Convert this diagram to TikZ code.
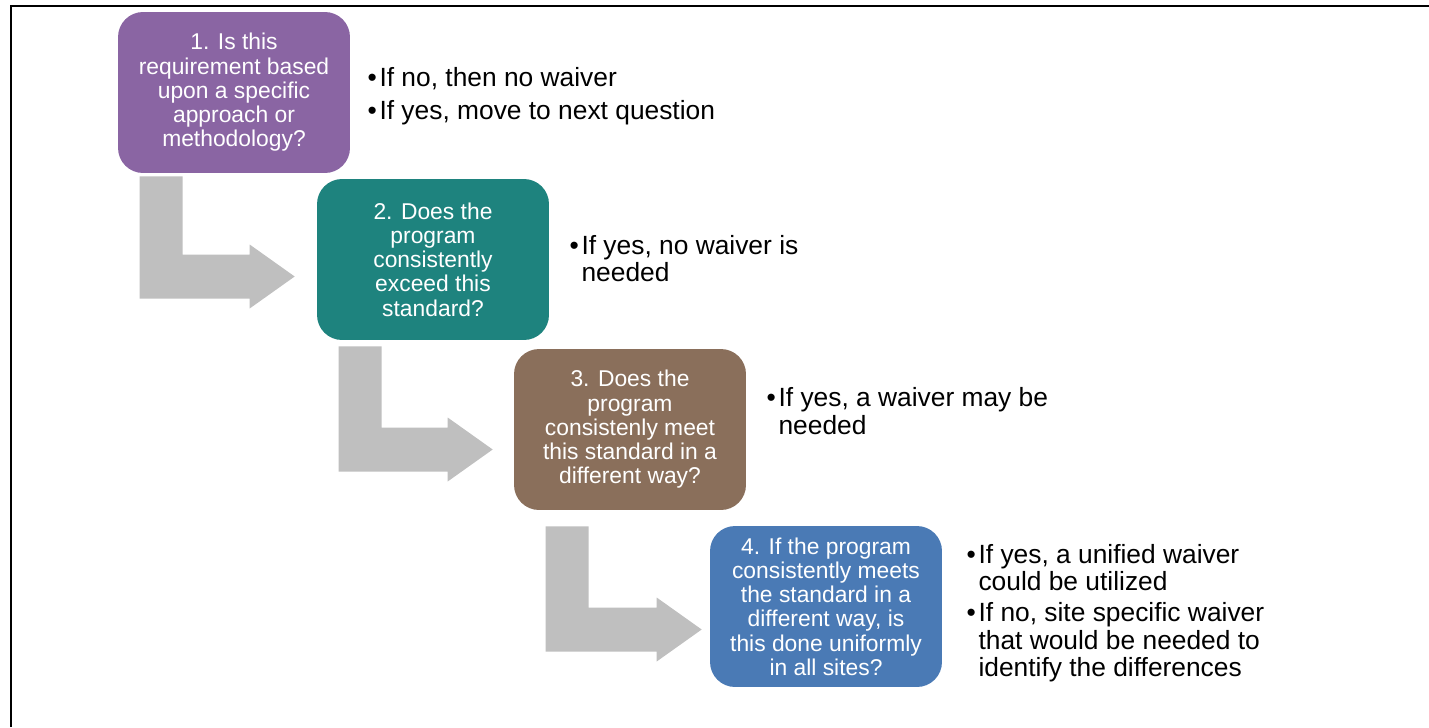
\documentclass[tikz,border=0pt]{standalone}
\usepackage{fontspec}
\setmainfont{Liberation Sans}
\usetikzlibrary{positioning,calc}
\definecolor{stepone}{RGB}{138,101,163}
\definecolor{steptwo}{RGB}{30,131,126}
\definecolor{stepthree}{RGB}{138,111,91}
\definecolor{stepfour}{RGB}{74,122,181}
\definecolor{bendgrey}{RGB}{191,191,191}
\tikzset{
question/.style={fill=#1, rounded corners=0.5cm, text=white, align=center, inner sep=0pt,
  minimum width=4.64cm, minimum height=3.22cm, font=\fontsize{13}{13.8}\selectfont},
answer/.style={inner sep=0pt, align=left, font=\fontsize{15}{15.6}\selectfont},
bend arrow/.style={fill=bendgrey}
}
\newenvironment{answers}{\begin{tabular}{@{}l@{\hspace{1.5pt}}l@{}}}{\end{tabular}}

\begin{document}
\begin{tikzpicture}[x=0.02cm, y=-0.02cm]
\useasboundingbox (0,0) rectangle (1429,727);
\draw[line width=1.7pt] (11,727) -- (11,6) -- (1429,6);

\node[question=stepone] (q1) at (234,92.5) {1. Is this\\requirement based\\upon a specific\\approach or\\methodology?};
\node[question=steptwo] (q2) at (433,259.5) {2. Does the\\program\\consistently\\exceed this\\standard?};
\node[question=stepthree] (q3) at (630,429.5) {3. Does the\\program\\consistenly meet\\this standard in a\\different way?};
\node[question=stepfour] (q4) at (826,606.5) {4. If the program\\consistently meets\\the standard in a\\different way, is\\this done uniformly\\in all sites?};

\node[answer, right=0.34cm of q1, yshift=-0.1cm] (a1) {\begin{answers}
\textbullet & If no, then no waiver\\[0.12cm]
\textbullet & If yes, move to next question
\end{answers}};
\node[answer, right=0.4cm of q2, yshift=-0.06cm] (a2) {\begin{answers}
\textbullet & If yes, no waiver is\\
 & needed
\end{answers}};
\node[answer, right=0.4cm of q3, yshift=0.29cm] (a3) {\begin{answers}
\textbullet & If yes, a waiver may be\\
 & needed
\end{answers}};
\node[answer, right=0.48cm of q4, yshift=-0.16cm] (a4) {\begin{answers}
\textbullet & If yes, a unified waiver\\
 & could be utilized\\[0.08cm]
\textbullet & If no, site specific waiver\\
 & that would be needed to\\
 & identify the differences
\end{answers}};

\foreach \a/\b/\dx/\dy/\tx/\ty in {q1/q2/22/3/-22/17, q2/q3/22/6/-21/20, q3/q4/32/16/-8/23}{
  \coordinate (\a-top) at ($(\a.south west)+(\dx,\dy)$);
  \coordinate (\a-tip) at ($(\b.west)+(\tx,\ty)$);
  \fill[bend arrow] (\a-top) -- ++(43,0) |- ($(\a-tip)+(-45,-22)$) -- ++(0,-10) -- (\a-tip)
    -- ($(\a-tip)+(-45,32)$) -- ++(0,-10) -| (\a-top) -- cycle;
}
\end{tikzpicture}
\end{document}
